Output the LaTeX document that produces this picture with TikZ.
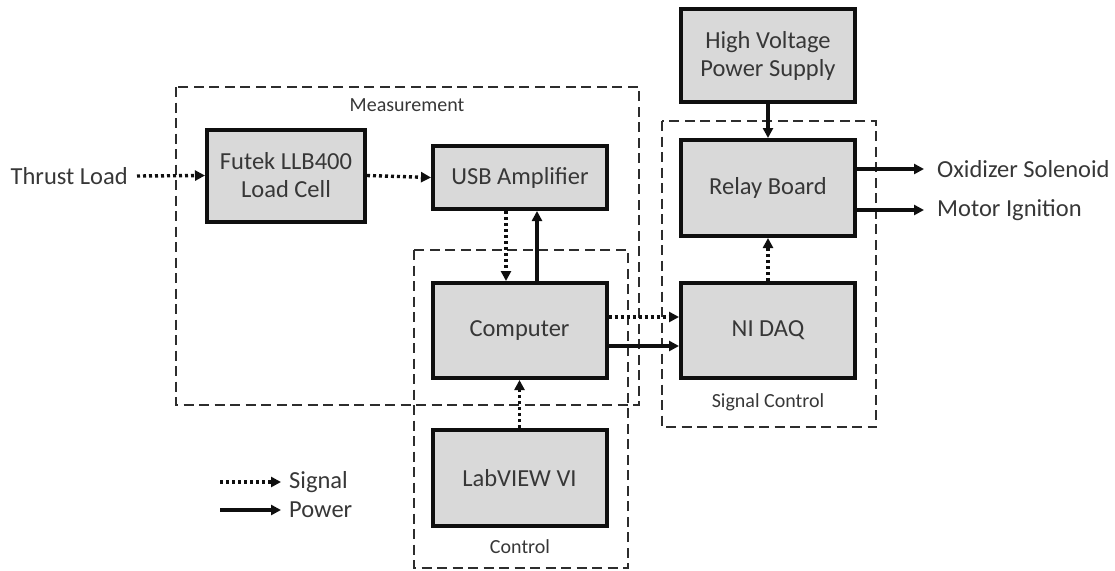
\documentclass[tikz,border=0pt]{standalone}
\usepackage{fontspec}
\setmainfont{Carlito}
\usetikzlibrary{arrows.meta}
\definecolor{boxfill}{RGB}{217,217,217}
\definecolor{txt}{RGB}{55,55,55}
\definecolor{edge}{RGB}{15,15,15}
\definecolor{dashc}{RGB}{45,45,45}
\begin{document}
\begin{tikzpicture}[x=1pt,y=-1pt,
  blk/.style={draw=edge,line width=4pt,fill=boxfill,minimum width=174pt,minimum height=95pt,
    align=center,text=txt,font=\fontsize{24.5}{28}\selectfont,inner sep=0pt},
  grp/.style={draw=dashc,line width=2.8pt,dash pattern=on 10pt off 5.5pt},
  grplabel/.style={text=txt,font=\fontsize{20}{23}\selectfont,inner sep=0pt},
  plain/.style={text=txt,font=\fontsize{24.5}{28}\selectfont,inner sep=0pt},
  sig/.style={draw=edge,line width=3.4pt,dash pattern=on 3pt off 3pt,-{Triangle[length=10pt,width=10pt]}},
  pow/.style={draw=edge,line width=3.2pt,-{Triangle[length=10pt,width=10pt]}}
]
\useasboundingbox (0,0) rectangle (1115,570);
% group boxes
\draw[grp] (176,87) rectangle (639,405);
\draw[grp] (414,250) rectangle (628,568);
\draw[grp] (662,121) rectangle (876,427);
\node[grplabel] (lmeas) at (407,105) {Measurement};
\node[grplabel] (lctrl) at (520,547) {Control};
\node[grplabel] (lsig) at (768,402) {Signal Control};
% blocks
\node[blk,minimum width=158pt,minimum height=92pt] (futek) at (286,175.5) {Futek LLB400\\Load Cell};
\node[blk,minimum height=63pt] (usb) at (520,177.5) {USB Amplifier};
\node[blk,minimum height=93pt] (hv) at (768,55.5) {High Voltage\\Power Supply};
\node[blk,minimum height=96pt] (relay) at (768,188) {Relay Board};
\node[blk] (comp) at (519.5,330.5) {Computer};
\node[blk] (daq) at (768,330.5) {NI DAQ};
\node[blk,minimum height=96pt] (lab) at (519.5,478) {LabVIEW VI};
% outside texts
\node[plain,anchor=east] (thrust) at (128,176) {Thrust Load};
\node[plain,anchor=west] (ox) at (937,169) {Oxidizer Solenoid};
\node[plain,anchor=west] (mi) at (937,210) {Motor Ignition};
% connectors
\draw[sig] ([xshift=9pt]thrust.east) -- (futek.west);
\draw[sig] (futek.east) -- (usb.west);
\draw[sig] ([xshift=-14pt]usb.south) -- ([xshift=-13.5pt]comp.north);
\draw[pow] ([xshift=17.5pt]comp.north) -- ([xshift=17pt]usb.south);
\draw[sig] ([yshift=13.5pt]comp.east) -- ([yshift=13.5pt]daq.west);
\draw[pow] ([yshift=-15.5pt]comp.east) -- ([yshift=-15.5pt]daq.west);
\draw[sig] (lab.north) -- (comp.south);
\draw[pow] (hv.south) -- (relay.north);
\draw[sig] (daq.north) -- (relay.south);
\draw[pow] ([yshift=19pt]relay.east) -- ([xshift=-13pt]ox.west);
\draw[pow] ([yshift=-22pt]relay.east) -- ([xshift=-13pt]mi.west);
% legend
\node[plain,anchor=west] (lgs) at (289,482) {Signal};
\node[plain,anchor=west] (lgp) at (289,510) {Power};
\coordinate (lgs0) at (220,482);
\coordinate (lgp0) at (220,510);
\draw[sig] (lgs0) -- ([xshift=-8pt]lgs.west);
\draw[pow] (lgp0) -- ([xshift=-8pt]lgp.west);
\end{tikzpicture}
\end{document}
